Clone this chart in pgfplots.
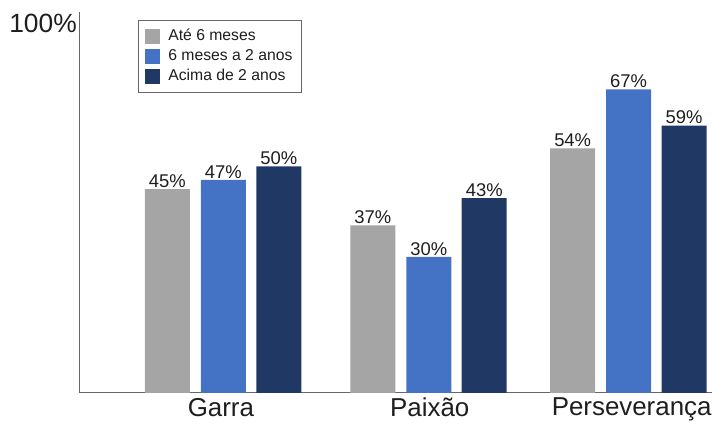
\documentclass[border=0pt]{standalone}
\usepackage{pgfplots}
\pgfplotsset{compat=1.18}
\usepackage{fontspec}
\setmainfont{Liberation Sans}
\definecolor{cgrey}{HTML}{A5A5A5}
\definecolor{cblue}{HTML}{4472C4}
\definecolor{cdark}{HTML}{203864}
\definecolor{axgrey}{HTML}{666666}
\definecolor{txt}{HTML}{1E1E1E}
\begin{document}
\begin{tikzpicture}
\begin{axis}[
  scale only axis,
  width=633bp, height=381bp,
  xmin=79, xmax=712, ymin=0, ymax=84.1,
  axis x line=bottom, axis y line=left,
  axis line style={draw=axgrey, line width=0.8bp, -},
  ytick=\empty,
  xtick={221,430,632},
  xticklabels={Garra,Paixão,Perseverança},
  major tick length=0pt,
  xticklabel style={font=\fontsize{26}{30}\selectfont, text=txt, inner sep=0pt, yshift=-5bp},
  ybar,
  bar width=45bp,
  nodes near coords={\pgfmathprintnumber{\pgfplotspointmeta}\%},
  nodes near coords style={font=\fontsize{18.5}{21}\selectfont, text=txt, inner sep=1.5bp},
  /pgf/number format/assume math mode=true,
  legend style={at={(rel axis cs:0.0932,0.979)}, anchor=north west,
    draw=axgrey, line width=0.8bp, fill=white,
    font=\fontsize{15.8}{19}\selectfont, text=txt,
    inner xsep=6.5bp, inner ysep=6bp,
    nodes={text height=11.5bp, text depth=3.5bp, inner sep=2.5bp},
    row sep=0bp},
  legend cell align=left,
  legend image code/.code={\fill[#1, draw=none] (0bp,-7.5bp) rectangle (15bp,7.5bp); \path (21bp,0bp);},
  clip=false,
]
\addplot[fill=cgrey, draw=none, bar shift=-56bp] coordinates {(223.5,45) (429,37) (629,54)};
\addplot[fill=cblue, draw=none, bar shift=0bp] coordinates {(223.5,47) (429,30) (629,67)};
\addplot[fill=cdark, draw=none, bar shift=55.5bp] coordinates {(223.5,50) (429,43) (629,59)};
\legend{Até 6 meses, 6 meses a 2 anos, Acima de 2 anos}
\end{axis}
\node[anchor=base east, inner sep=0pt, text=txt, font=\fontsize{26.5}{30}\selectfont] at (-2bp,360bp) {100\%};
\useasboundingbox (-79bp,-33bp) rectangle (633bp,393bp);
\end{tikzpicture}
\end{document}
